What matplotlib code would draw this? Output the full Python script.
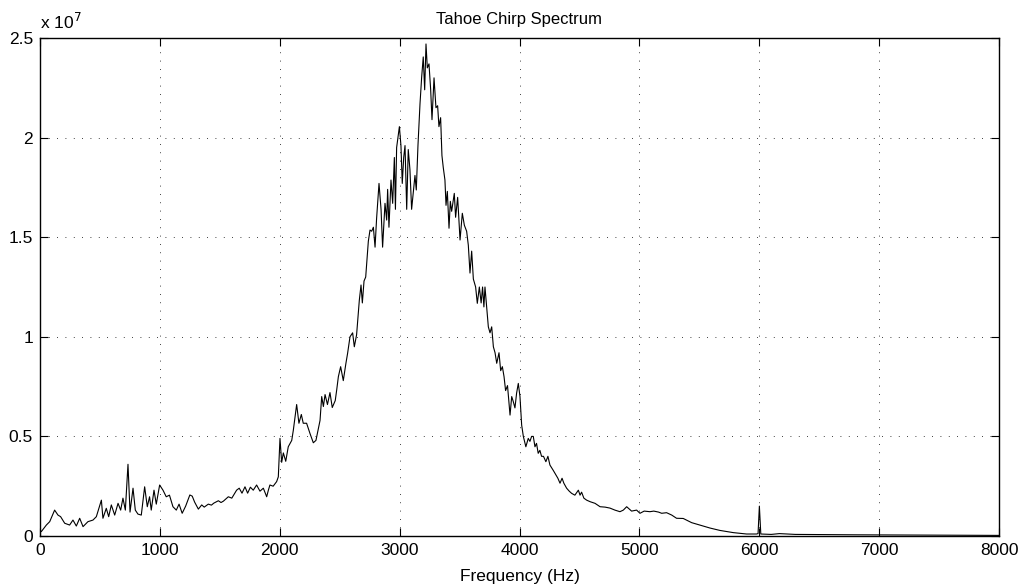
import matplotlib.pyplot as plt
from matplotlib.ticker import FixedLocator, FuncFormatter

plt.rcParams['font.family'] = ['Liberation Sans', 'DejaVu Sans']

# frequency in Hz, amplitude in units of 1e7
freq = [0, 11, 53, 81, 122, 150, 172, 206, 247, 275, 303, 331, 359, 400, 442, 470,
        512, 525, 553, 573, 595, 623, 651, 673, 692, 712, 734, 751, 776, 795, 817,
        845, 873, 895, 914, 928, 951, 970, 998, 1026, 1053, 1080, 1109, 1137, 1160,
        1186, 1215, 1250, 1270, 1290, 1321, 1349, 1370, 1404, 1430, 1450, 1488, 1510,
        1530, 1571, 1600, 1620, 1640,
        1662, 1685, 1710, 1732, 1755, 1779, 1807, 1835, 1863, 1891, 1905, 1918, 1945,
        1974, 1988, 2002, 2016, 2030, 2050, 2071, 2100, 2113, 2141, 2160, 2180, 2196,
        2224, 2252, 2280, 2302, 2336, 2350, 2364, 2378, 2398, 2419, 2438, 2463, 2475,
        2489, 2508, 2530, 2552, 2566, 2586, 2608, 2622, 2641, 2664, 2678, 2689, 2703,
        2717, 2739, 2753, 2767, 2781, 2795, 2808, 2828, 2845, 2858, 2878, 2892, 2900,
        2911, 2928, 2942, 2956, 2965, 2975, 2998, 3011, 3022, 3034, 3045, 3059, 3072,
        3086, 3100, 3117, 3128, 3139, 3153, 3170, 3184, 3197, 3209, 3220, 3231, 3245,
        3259, 3270, 3287, 3303, 3317, 3328, 3342, 3353, 3364, 3378, 3387, 3398, 3412,
        3423, 3434, 3456, 3467, 3484, 3504, 3523, 3540, 3559, 3573, 3587, 3601, 3615,
        3634, 3648, 3665, 3680, 3692, 3703, 3712, 3726, 3740, 3754, 3768, 3782, 3796,
        3810, 3829, 3843, 3857, 3871, 3884, 3900, 3921, 3935, 3948, 3962, 3976, 3990,
        4004, 4018, 4032, 4053, 4073, 4087, 4101, 4115, 4129, 4142, 4156, 4170, 4184,
        4200, 4220, 4237, 4254, 4281, 4300, 4320, 4338, 4355, 4370, 4393, 4415, 4435,
        4462, 4491, 4505, 4518, 4537, 4560, 4590, 4630, 4672, 4714, 4755, 4796, 4838,
        4866, 4894, 4935, 4977, 5005, 5040, 5088, 5120, 5160, 5186, 5227, 5270, 5310,
        5366, 5436, 5505, 5589, 5672, 5783, 5894, 5977,
        5990, 6001, 6013, 6100, 6168, 6300, 6500, 6800, 7200, 7600, 8000]

amp = [0.03, 0.022, 0.055, 0.072, 0.13, 0.105, 0.097, 0.064, 0.055, 0.08, 0.05, 0.089,
       0.047, 0.072, 0.08, 0.097, 0.18, 0.089, 0.139, 0.097, 0.156, 0.105, 0.164, 0.13,
       0.19, 0.13, 0.36, 0.12, 0.24, 0.13, 0.11, 0.105, 0.247, 0.147, 0.197, 0.13, 0.23,
       0.16, 0.256, 0.23, 0.197, 0.205, 0.147, 0.13, 0.16,
       0.114, 0.15, 0.206, 0.2, 0.17, 0.135, 0.156, 0.145, 0.16, 0.155, 0.165, 0.177, 0.168,
       0.175, 0.197, 0.19, 0.21, 0.23,
       0.24, 0.215, 0.247,
       0.215, 0.245, 0.23, 0.256, 0.225, 0.24, 0.197, 0.23, 0.256, 0.25, 0.273, 0.297,
       0.49, 0.37, 0.417, 0.375, 0.448, 0.48, 0.53, 0.66, 0.566, 0.61, 0.566, 0.566,
       0.515, 0.468, 0.48, 0.58, 0.70, 0.65, 0.71, 0.66, 0.72, 0.645, 0.68, 0.733, 0.80,
       0.85, 0.78, 0.867, 0.917, 1.0, 1.02, 0.95, 1.01, 1.185, 1.26, 1.17, 1.28, 1.30,
       1.48, 1.536, 1.53, 1.55, 1.45, 1.595, 1.77, 1.64, 1.45, 1.67, 1.586, 1.74, 1.55,
       1.787, 1.67, 1.90, 1.64, 1.95, 2.055, 1.96, 1.77, 1.90, 1.96, 1.64, 1.94, 1.84,
       1.64, 1.74, 1.81, 1.737, 1.96, 2.17, 2.305, 2.405, 2.24, 2.47, 2.35, 2.37, 2.24,
       2.09, 2.30, 2.15, 2.16, 2.055, 2.10, 1.91, 1.85, 1.787, 1.66, 1.73, 1.545, 1.68,
       1.63, 1.72, 1.60, 1.70, 1.486, 1.62, 1.56, 1.53, 1.46, 1.32, 1.43, 1.29, 1.25,
       1.168, 1.25, 1.17, 1.25, 1.15, 1.25, 1.15, 1.05, 1.02, 1.05, 0.95, 0.92, 0.867,
       0.92, 0.83, 0.85, 0.80, 0.73, 0.755, 0.607, 0.70, 0.675, 0.643, 0.718, 0.766,
       0.70, 0.557, 0.50, 0.448, 0.49, 0.475, 0.50, 0.50, 0.448, 0.465, 0.415, 0.43,
       0.40, 0.40, 0.373, 0.40, 0.356, 0.33, 0.31, 0.29, 0.265, 0.29, 0.265, 0.24, 0.225,
       0.214, 0.205, 0.23, 0.205, 0.22, 0.19, 0.18, 0.172, 0.164, 0.147, 0.145, 0.14,
       0.13, 0.122, 0.13, 0.147, 0.125, 0.13, 0.114, 0.125, 0.122, 0.125, 0.12, 0.114,
       0.117, 0.105, 0.089,
       0.088, 0.067, 0.055, 0.04, 0.028, 0.017, 0.01, 0.01,
       0.012, 0.15, 0.01, 0.008, 0.012, 0.008, 0.007, 0.006, 0.005, 0.004, 0.003]

xticks = [0, 1000, 2000, 3000, 4000, 5000, 6000, 7000, 8000]
yticks = [0, 0.5, 1, 1.5, 2, 2.5]

fig = plt.figure(figsize=(10.24, 5.87), dpi=100)
ax = fig.add_axes([40 / 1024, 51 / 587, 959 / 1024, 498 / 587])

ax.plot(freq, amp, color='black', linewidth=0.8)

ax.set_xlim(0, 8000)
ax.set_ylim(0, 2.5)
ax.xaxis.set_major_locator(FixedLocator(xticks))
ax.yaxis.set_major_locator(FixedLocator(yticks))
ax.yaxis.set_major_formatter(FuncFormatter(lambda v, p: ('%g' % v)))
ax.tick_params(direction='in', top=True, right=True, length=6, width=0.8,
               labelsize=12.5, pad=5)
ax.grid(True, color='black', linestyle=(0, (1, 9)), linewidth=0.6)
for s in ax.spines.values():
    s.set_linewidth(1.0)

ax.set_title('Tahoe Chirp Spectrum', fontsize=12, pad=10)
ax.set_xlabel('Frequency (Hz)', fontsize=12.5, labelpad=8)
ax.text(0.0, 1.012, r'x 10$^{7}$', transform=ax.transAxes, fontsize=12.5,
        ha='left', va='bottom')

fig.savefig('out.png', dpi=100)
